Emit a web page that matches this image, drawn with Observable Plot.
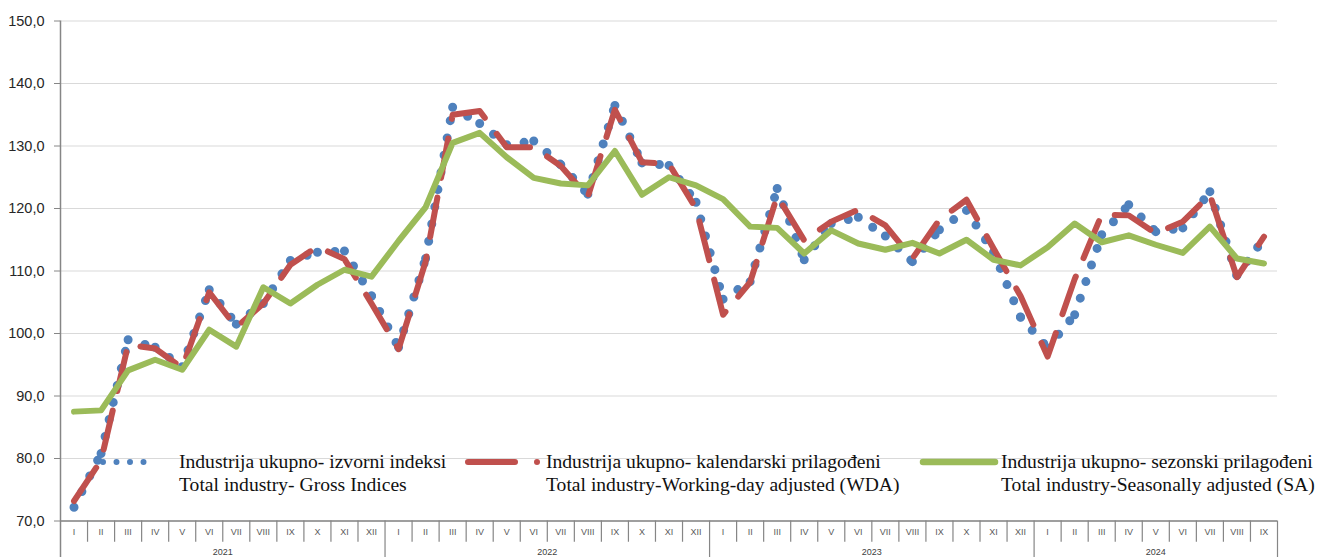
<!DOCTYPE html>
<html><head><meta charset="utf-8">
<script src="https://cdn.jsdelivr.net/npm/d3@7"></script>
<script src="https://cdn.jsdelivr.net/npm/@observablehq/plot@0.6"></script>
<style>
html,body{margin:0;padding:0;background:#fff;overflow:hidden;}
#wrap{position:relative;width:1318px;height:557px;overflow:hidden;}
#legend{position:absolute;left:0;top:0;pointer-events:none;}
#legend text{font-family:"Liberation Serif","Times New Roman",serif;font-size:19.6px;fill:#111;}
</style></head><body><div id="wrap"></div>
<script>
// ---- data ----
const years = ["2021", "2022", "2023", "2024"];
const monthsPerYear = [12, 12, 12, 9];
const romans = ["I","II","III","IV","V","VI","VII","VIII","IX","X","XI","XII"];
const yTicks = [70, 80, 90, 100, 110, 120, 130, 140, 150];

const gross = [
  72.2, 80.8, 99.0, 97.8, 94.7, 107.0, 101.5, 104.8, 111.7, 113.0, 113.2, 106.0,
  97.8, 112.0, 136.2, 133.6, 130.2, 130.8, 127.0, 122.3, 136.5, 127.3, 126.9, 121.0,
  105.5, 108.3, 123.2, 111.8, 117.6, 118.6, 115.6, 111.5, 116.6, 119.7, 113.0, 102.6,
  97.7, 103.0, 115.8, 120.6, 116.3, 116.9, 122.7, 109.3, 115.2
];
const wda = [
  73.2, 79.7, 98.2, 97.6, 94.5, 106.6, 101.0, 104.8, 111.0, 113.9, 111.9, 104.8,
  97.5, 111.5, 135.0, 135.6, 129.8, 129.8, 126.8, 121.9, 135.8, 127.4, 127.1, 120.0,
  103.0, 108.2, 122.0, 114.9, 117.9, 119.8, 117.3, 112.0, 118.2, 121.4, 113.6, 106.0,
  96.3, 108.7, 119.0, 118.9, 116.0, 117.9, 122.2, 109.0, 115.5
];
const sa = [
  87.5, 87.7, 94.1, 95.8, 94.2, 100.6, 97.9, 107.4, 104.8, 107.8, 110.2, 109.1,
  114.8, 120.2, 130.5, 132.1, 128.2, 124.9, 124.0, 123.7, 129.2, 122.2, 125.0, 123.7,
  121.5, 117.1, 116.9, 112.8, 116.5, 114.4, 113.4, 114.5, 112.8, 115.0, 111.8, 110.9,
  113.8, 117.6, 114.6, 115.7, 114.2, 112.9, 117.1, 112.0, 111.2
];
const legendLines = [
  ["Industrija ukupno- izvorni indeksi", "Total industry- Gross Indices"],
  ["Industrija ukupno- kalendarski prilagođeni", "Total industry-Working-day adjusted (WDA)"],
  ["Industrija ukupno- sezonski prilagođeni", "Total industry-Seasonally adjusted (SA)"]
];
const colors = {gross: "#4F81BD", wda: "#C0504D", sa: "#9BBB59"};

// ---- derived tables ----
const monthLabels = monthsPerYear.flatMap(n => romans.slice(0, n));
const n = monthLabels.length;
const rows = d3.range(n).map(i => ({i, gross: gross[i], wda: wda[i], sa: sa[i]}));
// Gross series drawn segment by segment (dot pattern restarts on each segment, as in the source)
const grossSegs = d3.range(n - 1).flatMap(i => [
  {i, v: gross[i], seg: i}, {i: i + 1, v: gross[i + 1], seg: i}
]);
const yearEnds = d3.cumsum(monthsPerYear).map(c => c - 0.5);
const yearStarts = [-0.5, ...yearEnds.slice(0, -1)];
const yearCenters = yearStarts.map((s, k) => (s + yearEnds[k]) / 2);
const monthSeps = d3.range(n - 1).map(i => i + 0.5).filter(x => !yearEnds.includes(x));
const fmt = d => d.toFixed(1).replace(".", ",");

const W = 1318, H = 557;
const chart = Plot.plot({
  width: W, height: H,
  marginLeft: 60, marginRight: 41, marginTop: 20.5, marginBottom: 36.5,
  style: {fontFamily: "'Liberation Sans', Arial, sans-serif", background: "white", overflow: "visible"},
  x: {type: "linear", domain: [-0.5, n - 0.5], label: null},
  y: {domain: [70, 150], label: null},
  marks: [
    Plot.gridY(yTicks, {stroke: "#d9d9d9", strokeOpacity: 1, strokeWidth: 1.2}),
    Plot.axisY({ticks: yTicks, tickFormat: fmt, tickSize: 6, tickPadding: 10, fontSize: 14.5,
                stroke: "#868686", fill: "#262626", label: null}),
    Plot.ruleY([70], {stroke: "#868686", strokeWidth: 1.5}),
    Plot.ruleX([-0.5], {y1: 150, y2: 63, stroke: "#868686", strokeWidth: 1.5}),
    Plot.ruleX(monthSeps, {x: d => d, y1: 70, y2: 66.6, stroke: "#868686", strokeWidth: 1.2}),
    Plot.ruleX(yearEnds, {x: d => d, y1: 70, y2: 63, stroke: "#868686", strokeWidth: 1.2}),
    Plot.axisX({ticks: d3.range(n), tickFormat: i => monthLabels[i], tickSize: 0, tickPadding: 8,
                fontSize: 9, fill: "#595959", label: null}),
    Plot.axisX({ticks: yearCenters, tickFormat: (d, k) => years[k], tickSize: 0, tickPadding: 27.5,
                fontSize: 9, fill: "#404040", label: null}),
    Plot.line(grossSegs, {x: "i", y: "v", z: "seg", stroke: colors.gross, strokeWidth: 9,
                          strokeDasharray: "0 17.5", strokeLinecap: "round"}),
    Plot.line(rows, {x: "i", y: "wda", stroke: colors.wda, strokeWidth: 6,
                     strokeDasharray: "40 20", strokeLinecap: "round", strokeLinejoin: "round"}),
    Plot.line(rows, {x: "i", y: "sa", stroke: colors.sa, strokeWidth: 6, strokeLinejoin: "round"})
  ]
});
const wrap = document.getElementById("wrap");
wrap.appendChild(chart);

// ---- legend (inside plot area, bottom) ----
const svgNS = "http://www.w3.org/2000/svg";
const leg = document.createElementNS(svgNS, "svg");
leg.setAttribute("id", "legend");
leg.setAttribute("width", W); leg.setAttribute("height", H);
const items = [
  {key: "gross", sx1: 103, sx2: 157, tx: 179, dash: "0 13.5", w: 6},
  {key: "wda", sx1: 468, sx2: 515, tx: 546, dash: null, w: 6, dot: 537},
  {key: "sa", sx1: 923, sx2: 995, tx: 1001, dash: null, w: 6.5}
];
items.forEach((it, k) => {
  const ln = document.createElementNS(svgNS, "line");
  ln.setAttribute("x1", it.sx1); ln.setAttribute("x2", it.sx2);
  ln.setAttribute("y1", 462); ln.setAttribute("y2", 462);
  ln.setAttribute("stroke", colors[it.key]); ln.setAttribute("stroke-width", it.w);
  ln.setAttribute("stroke-linecap", "round");
  if (it.dash) ln.setAttribute("stroke-dasharray", it.dash);
  leg.appendChild(ln);
  if (it.dot) {
    const c = document.createElementNS(svgNS, "circle");
    c.setAttribute("cx", it.dot); c.setAttribute("cy", 462); c.setAttribute("r", 3);
    c.setAttribute("fill", colors[it.key]);
    leg.appendChild(c);
  }
  legendLines[k].forEach((s, j) => {
    const t = document.createElementNS(svgNS, "text");
    t.setAttribute("x", it.tx); t.setAttribute("y", 468 + j * 22.5);
    t.textContent = s;
    leg.appendChild(t);
  });
});
wrap.appendChild(leg);
</script></body></html>
